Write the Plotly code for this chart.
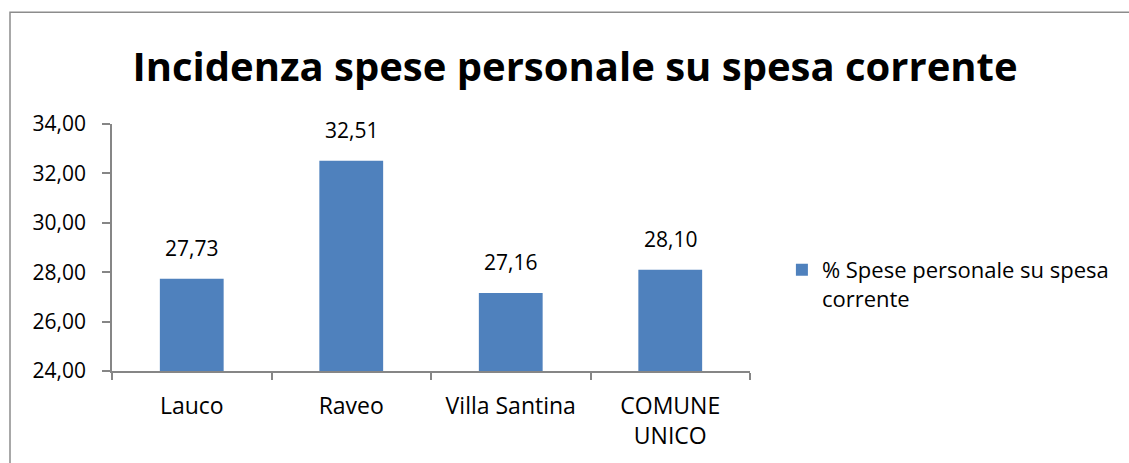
import plotly.graph_objects as go

categories = ["Lauco", "Raveo", "Villa Santina", "COMUNE UNICO"]
tick_labels = ["Lauco", "Raveo", "Villa Santina", "COMUNE<br>UNICO"]
values = [27.73, 32.51, 27.16, 28.10]
value_labels = ["27,73", "32,51", "27,16", "28,10"]
y_ticks = [24, 26, 28, 30, 32, 34]
y_tick_labels = ["24,00", "26,00", "28,00", "30,00", "32,00", "34,00"]
series_name = "% Spese personale su spesa<br>corrente"

FONT = "Open Sans"
BAR = "#4F81BD"

fig = go.Figure()
fig.add_trace(go.Bar(
    x=categories, y=values, name=series_name,
    marker=dict(color=BAR, line=dict(width=0)),
    showlegend=True,
))

for c, v, t in zip(categories, values, value_labels):
    fig.add_annotation(x=c, y=v, text=t, showarrow=False, yshift=31,
                       yanchor="middle", font=dict(family=FONT, size=21, color="#000"))

fig.update_layout(
    width=1129, height=463,
    margin=dict(l=112, r=379, t=124, b=90),
    paper_bgcolor="white", plot_bgcolor="white",
    bargap=0.6,
    title=dict(text="<b>Incidenza spese personale su spesa corrente</b>",
               x=575/1129, xanchor="center", y=1 - 67/463, yanchor="middle",
               font=dict(family=FONT, size=40, color="#000")),
    showlegend=True,
    legend=dict(x=1.05, xanchor="left", y=(372.7 - 250) / 248.3, yanchor="top",
                font=dict(family=FONT, size=22, color="#000"),
                valign="top", itemwidth=30, bgcolor="rgba(0,0,0,0)",
                tracegroupgap=0),
    xaxis=dict(
        tickmode="array", tickvals=categories, ticktext=tick_labels,
        showline=True, linecolor="#868686", linewidth=1.5,
        ticks="outside", ticklen=7, tickcolor="#868686", tickwidth=1.5,
        tickson="boundaries", ticklabelstandoff=14,
        tickfont=dict(family=FONT, size=23, color="#000"),
        showgrid=False, zeroline=False, fixedrange=True,
    ),
    yaxis=dict(
        range=[24, 34], tickmode="array", tickvals=y_ticks, ticktext=y_tick_labels,
        showline=True, linecolor="#868686", linewidth=1.5,
        ticks="outside", ticklen=8, tickcolor="#868686", tickwidth=1.5,
        tickfont=dict(family=FONT, size=21, color="#000"),
        ticklabelstandoff=12,
        showgrid=False, zeroline=False, fixedrange=True,
    ),
    shapes=[dict(type="rect", xref="paper", yref="paper",
                 x0=(10 - 112) / 638, x1=(1140 - 112) / 638,
                 y0=(372.7 - 480) / 248.3, y1=(372.7 - 12) / 248.3,
                 line=dict(color="#8C8C8C", width=1.5), layer="below")],
)

fig.write_html("out.html", config={"displayModeBar": False},
               post_script="document.body.style.margin='0';document.body.style.overflow='hidden';")
